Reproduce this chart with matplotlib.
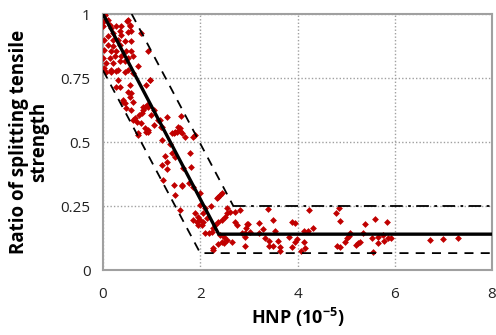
import matplotlib
matplotlib.use("Agg")
import matplotlib.pyplot as plt

plt.rcParams['font.family'] = ['Open Sans', 'DejaVu Sans']
plt.rcParams['mathtext.fontset'] = 'custom'
plt.rcParams['mathtext.rm'] = 'Open Sans:bold'
plt.rcParams['mathtext.it'] = 'Open Sans:bold'
plt.rcParams['mathtext.bf'] = 'Open Sans:bold'

# scatter data (HNP in 1e-5, ratio)
pts_x = [
    0.0, 0.02, 0.05, 0.10, 0.03, 0.0, 0.14, 0.17, 0.27, 0.38, 0.50, 0.55, 0.57, 0.34, 0.38,
    0.21, 0.10, 0.03, 0.21, 0.31, 0.45, 0.58, 0.10, 0.21, 0.34, 0.03, 0.17, 0.27, 0.48, 0.58,
    0.93, 0.0, 0.14, 0.24, 0.38, 0.51, 0.62, 0.07, 0.21, 0.34, 0.45, 0.72, 0.03, 0.17, 0.31,
    0.51, 0.51, 0.56, 0.52, 0.78,
    0.07, 0.17, 0.27, 0.45, 0.62, 0.96, 0.89, 0.31, 0.27, 0.34, 0.55, 0.51, 0.58, 0.55, 0.41,
    0.45, 0.62, 0.58, 0.48, 0.65, 0.75, 0.82, 0.86, 0.93, 0.69, 0.79, 0.99, 1.13, 0.86, 0.89,
    0.93, 1.20, 0.72, 0.97, 0.83, 0.90, 0.80, 1.04, 1.04, 1.17, 1.31, 1.41, 1.48, 1.58, 1.62,
    1.89, 0.42, 0.62, 0.73, 1.21, 1.55, 1.60, 1.69,
    0.93, 1.45, 1.52, 1.58, 1.86, 1.21, 1.38, 1.41, 1.79, 1.28, 1.48, 1.31, 1.21, 1.31, 1.65,
    1.82, 1.24, 1.45, 1.62, 1.86, 1.48, 2.00,
    1.62, 1.76, 1.58, 2.37, 2.41, 2.44, 2.34, 2.00, 2.10, 2.22, 2.55, 2.61, 2.55, 2.72, 2.82,
    2.51, 2.44, 2.37, 2.30, 2.27, 2.72, 2.75, 1.89, 1.96, 1.86, 1.93, 2.00, 2.06, 2.03, 1.96,
    2.06, 2.13, 2.10, 2.17, 2.24, 2.41, 2.48, 2.55, 2.65, 2.85, 2.92, 2.44, 2.27, 2.37, 2.27,
    2.48,
    3.39, 2.96, 2.92, 2.94, 2.99, 3.02, 2.92, 3.21, 3.20, 3.30, 3.33, 3.42, 3.42, 3.50, 3.54,
    3.50, 3.59, 3.64, 3.64, 3.83, 3.88, 3.95, 3.88, 3.94, 3.99, 4.07, 4.14, 4.16, 4.14, 4.22,
    4.24, 4.31, 4.79, 4.86, 4.88, 4.82, 4.88, 4.98, 5.01, 5.05, 5.07, 5.21, 5.25, 5.29, 5.34,
    5.39, 5.53, 5.60, 5.56, 5.65, 5.66, 5.75, 5.78, 5.84, 5.87, 5.92, 6.73, 7.00, 7.31,
]
pts_y = [
    1.00, 1.00, 0.995, 0.978, 0.972, 0.952, 0.958, 0.945, 0.952, 0.952, 0.974, 0.952, 0.932, 0.932, 0.919,
    0.926, 0.913, 0.900, 0.900, 0.900, 0.893, 0.896, 0.880, 0.874, 0.880, 0.861, 0.854, 0.854, 0.854, 0.854,
    0.854, 0.828, 0.828, 0.835, 0.835, 0.828, 0.835, 0.809, 0.809, 0.815, 0.815, 0.796, 0.789, 0.782, 0.782,
    0.782, 0.977, 0.957, 0.930, 0.925,
    0.775, 0.775, 0.777, 0.775, 0.768, 0.742, 0.723, 0.742, 0.716, 0.716, 0.723, 0.697, 0.690, 0.677, 0.657,
    0.651, 0.657, 0.625, 0.632, 0.592, 0.605, 0.625, 0.638, 0.638, 0.580, 0.573, 0.605, 0.586, 0.553, 0.540,
    0.547, 0.560, 0.527, 0.742, 0.638, 0.645, 0.612, 0.625, 0.566, 0.586, 0.599, 0.534, 0.540, 0.553, 0.534,
    0.527, 0.664, 0.586, 0.534, 0.560, 0.560, 0.600, 0.520,
    0.540, 0.534, 0.540, 0.543, 0.520, 0.508, 0.492, 0.458, 0.456, 0.445, 0.443, 0.423, 0.410, 0.393, 0.397,
    0.404, 0.352, 0.332, 0.328, 0.323, 0.293, 0.300,
    0.332, 0.339, 0.234, 0.286, 0.293, 0.300, 0.280, 0.254, 0.241, 0.250, 0.241, 0.228, 0.221, 0.228, 0.234,
    0.208, 0.195, 0.189, 0.176, 0.163, 0.189, 0.176, 0.221, 0.208, 0.195, 0.189, 0.195, 0.189, 0.176, 0.176,
    0.221, 0.202, 0.143, 0.143, 0.150, 0.137, 0.130, 0.117, 0.111, 0.143, 0.130, 0.111, 0.085, 0.102, 0.078,
    0.104,
    0.240, 0.180, 0.143, 0.163, 0.180, 0.150, 0.094, 0.185, 0.143, 0.160, 0.124, 0.115, 0.094, 0.195, 0.154,
    0.094, 0.115, 0.091, 0.075, 0.128, 0.189, 0.182, 0.089, 0.111, 0.120, 0.075, 0.111, 0.085, 0.154, 0.152,
    0.234, 0.163, 0.221, 0.243, 0.193, 0.094, 0.091, 0.111, 0.124, 0.133, 0.143, 0.098, 0.104, 0.111, 0.146,
    0.180, 0.124, 0.198, 0.072, 0.104, 0.128, 0.137, 0.113, 0.189, 0.124, 0.124, 0.117, 0.120, 0.124,
]

# fitted line and bounds
fit_x = [0.0, 2.38, 8.0]
fit_y = [1.0, 0.14, 0.14]
upper_x = [0.59, 2.68]
upper_y = [1.0, 0.25]
upper_flat_x = [2.68, 8.0]
upper_flat_y = [0.25, 0.25]
lower_x = [0.0, 2.0, 8.0]
lower_y = [0.78, 0.066, 0.066]

x_ticks = [0, 2, 4, 6, 8]
y_ticks = [0, 0.25, 0.5, 0.75, 1]
y_ticklabels = ['0', '0.25', '0.5', '0.75', '1']

fig = plt.figure(figsize=(4.96, 3.35), dpi=100)
ax = fig.add_axes([103/496, 65/335, 389/496, 256/335])

ax.scatter(pts_x, pts_y, marker='D', s=12, color='#C00000', linewidths=0, zorder=3)
ax.plot(fit_x, fit_y, color='black', lw=2.4, zorder=4, solid_capstyle='butt')
ax.plot(upper_x, upper_y, color='black', lw=1.3, ls=(0, (5, 4)), zorder=4)
ax.plot(upper_flat_x, upper_flat_y, color='black', lw=1.3, ls=(0, (7, 3, 1.5, 3)), zorder=4)
ax.plot(lower_x, lower_y, color='black', lw=1.3, ls=(0, (5, 4)), zorder=4)

ax.set_xlim(0, 8)
ax.set_ylim(0, 1)
ax.set_xticks(x_ticks)
ax.set_xticklabels([str(v) for v in x_ticks])
ax.set_yticks(y_ticks)
ax.set_yticklabels(y_ticklabels)
ax.tick_params(length=0, labelsize=11, colors='#222222')
ax.tick_params(axis='x', pad=12)
ax.tick_params(axis='y', pad=9)
ax.grid(True, color='#A0A0A0', lw=1.0, ls=(0, (1, 1.5)), zorder=1)
for s in ax.spines.values():
    s.set_color('#A0A0A0')
    s.set_linewidth(1.5)

ax.set_xlabel(r'HNP (10$^{-5}$)', fontsize=13, fontweight='bold', labelpad=3)
ax.set_ylabel('Ratio of splitting tensile\nstrength', fontsize=13.5, fontweight='bold',
              labelpad=8, linespacing=1.0)

fig.savefig('out.png', dpi=100)
